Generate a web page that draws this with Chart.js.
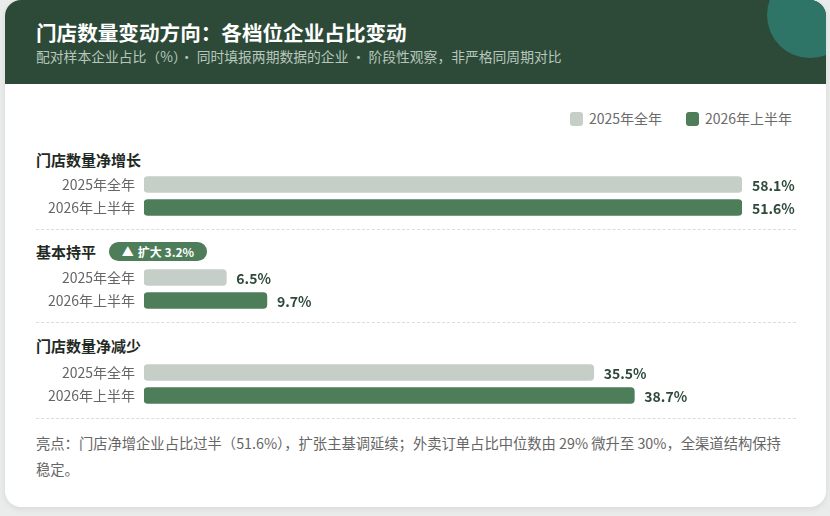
<!DOCTYPE html>
<html>
<head>
<meta charset="utf-8">
<script src="https://cdn.jsdelivr.net/npm/chart.js@4"></script>
<style>
  html, body { margin: 0; padding: 0; background: #e9ecea; }
  body { width: 830px; height: 516px; overflow: hidden; font-family: "Noto Sans CJK SC", "Noto Sans", sans-serif; }
  #wrap { position: relative; width: 830px; height: 516px; }
  .card { position: absolute; left: 5px; top: 0; width: 821px; height: 507px; background: #fff; border-radius: 16px; overflow: hidden; box-shadow: 0 2px 6px rgba(0,0,0,0.08); }
  .head { position: absolute; left: 0; top: 0; width: 821px; height: 84px; background: #2d4a38; overflow: hidden; }
  .blob { position: absolute; left: 762px; top: -28px; width: 86px; height: 86px; border-radius: 50%; background: #2f7567; }
  .title { position: absolute; left: 31px; top: 18px; color: #fff; font-size: 20.6px; font-weight: 700; line-height: 28px; white-space: nowrap; }
  .sub { position: absolute; left: 31px; top: 47px; color: #b7c6bc; font-size: 13.8px; line-height: 19px; white-space: nowrap; }
  .abs { position: absolute; white-space: nowrap; }
  .legend { top: 109px; font-size: 14px; color: #6b6b6b; line-height: 18px; }
  .sw { display: inline-block; width: 13px; height: 14px; border-radius: 3px; vertical-align: -2px; margin-right: 6px; }
  .gtitle { left: 36px; font-size: 15px; font-weight: 700; color: #1f2a24; line-height: 20px; }
  .badge { left: 109px; top: 242px; width: 98px; height: 19px; border-radius: 10px; background: #4e7d5a; color: #fff; font-size: 12px; font-weight: 700; line-height: 19px; text-align: center; }
  .badge .tri { margin-right: 4px; }
  .sep { left: 36px; width: 760px; height: 0; border-top: 1px dashed #dcdcdc; }
  .foot { left: 36px; top: 430px; width: 752px; font-size: 14.3px; color: #666; line-height: 26px; white-space: normal; }
  canvas { position: absolute; left: 0; }
</style>
</head>
<body>
<div id="wrap">
  <div class="card"></div>
  <div class="abs" style="left:5px;top:0;width:821px;height:84px;border-radius:16px 16px 0 0;overflow:hidden;">
    <div class="head">
      <div class="blob"></div>
      <div class="title">门店数量变动方向：各档位企业占比变动</div>
      <div class="sub">配对样本企业占比（%）· 同时填报两期数据的企业 · 阶段性观察，非严格同周期对比</div>
    </div>
  </div>

  <div class="abs legend" style="left:570px;"><span class="sw" style="background:#c6cec8"></span>2025年全年</div>
  <div class="abs legend" style="left:686px;"><span class="sw" style="background:#4e7d5a"></span>2026年上半年</div>

  <div class="abs gtitle" style="top:150px;">门店数量净增长</div>
  <canvas id="g1" width="830" height="46" style="top:173px;"></canvas>
  <div class="abs sep" style="top:229px;"></div>

  <div class="abs gtitle" style="top:242px;">基本持平</div>
  <div class="abs badge"><span class="tri">▲</span>扩大 3.2%</div>
  <canvas id="g2" width="830" height="46" style="top:266px;"></canvas>
  <div class="abs sep" style="top:322px;"></div>

  <div class="abs gtitle" style="top:336px;">门店数量净减少</div>
  <canvas id="g3" width="830" height="46" style="top:361px;"></canvas>
  <div class="abs sep" style="top:418px;"></div>

  <div class="abs foot">亮点：门店净增企业占比过半（51.6%），扩张主基调延续；外卖订单占比中位数由 29% 微升至 30%，全渠道结构保持稳定。</div>
</div>

<script>
const PERIODS = ['2025年全年', '2026年上半年'];
const GROWTH = [58.1, 51.6];
const FLAT = [6.5, 9.7];
const DECLINE = [35.5, 38.7];
const X_MAX = 47.2; // bar track is full at this share

const GRAY = '#c6cec8';
const GREEN = '#4e7d5a';
const FONT = '"Noto Sans CJK SC", "Noto Sans", sans-serif';

const valueLabels = {
    id: 'valueLabels',
    afterDatasetsDraw(chart) {
        const ctx = chart.ctx;
        const vals = chart.options.plugins.valueLabels.values;
        const meta = chart.getDatasetMeta(0);
        ctx.save();
        ctx.font = 'bold 14px ' + FONT;
        ctx.fillStyle = '#2f4a3b';
        ctx.textAlign = 'left';
        ctx.textBaseline = 'middle';
        meta.data.forEach((bar, i) => {
            ctx.fillText(vals[i].toFixed(1) + '%', bar.x + 10, bar.y + 1);
        });
        ctx.restore();
    }
};

function makeGroup(id, values) {
    const ctx = document.getElementById(id);
    return new Chart(ctx, {
        type: 'bar',
        data: {
            labels: PERIODS,
            datasets: [{
                data: values.map(v => Math.min(v, X_MAX)),
                backgroundColor: [GRAY, GREEN],
                borderRadius: 4,
                borderSkipped: false,
                barThickness: 16
            }]
        },
        options: {
            indexAxis: 'y',
            responsive: false,
            animation: false,
            layout: { padding: { left: 0, right: 88, top: 0, bottom: 0 } },
            plugins: {
                legend: { display: false },
                tooltip: { enabled: false },
                valueLabels: { values: values }
            },
            scales: {
                x: { display: false, min: 0, max: X_MAX },
                y: {
                    grid: { display: false },
                    border: { display: false },
                    ticks: {
                        color: '#666',
                        font: { size: 14, family: FONT },
                        padding: 1
                    },
                    afterFit: (scale) => {
                        scale.width = 144;
                        // no extra room above/below for the tick text
                        scale.paddingTop = 0;
                        scale.paddingBottom = 0;
                    }
                }
            }
        },
        plugins: [valueLabels]
    });
}

makeGroup('g1', GROWTH);
makeGroup('g2', FLAT);
makeGroup('g3', DECLINE);
</script>
</body>
</html>
